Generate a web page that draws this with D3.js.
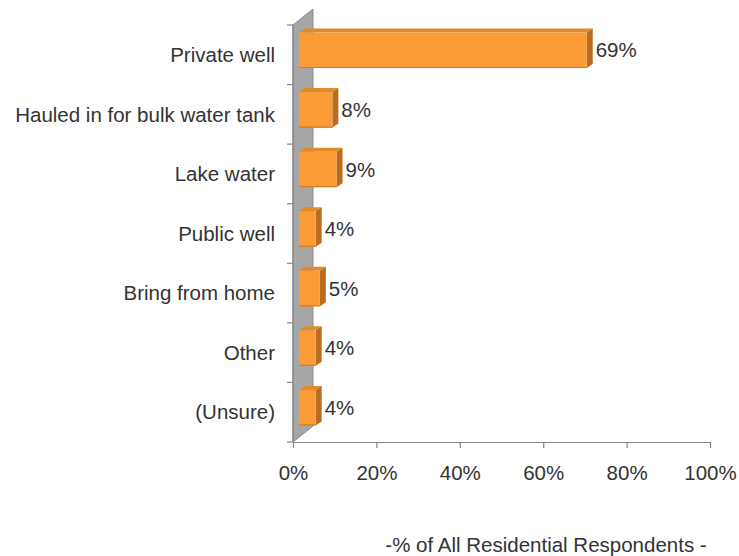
<!DOCTYPE html>
<html>
<head>
<meta charset="utf-8">
<script src="https://cdn.jsdelivr.net/npm/d3@7"></script>
<style>
  html, body { margin: 0; padding: 0; background: #fff; }
  svg { display: block; }
  text { font-family: "Liberation Sans", Arial, sans-serif; fill: #333; }
</style>
</head>
<body>
<svg id="chart" width="739" height="556"></svg>
<script>
// Water source for residences
const categories = ["Private well", "Hauled in for bulk water tank", "Lake water",
                    "Public well", "Bring from home", "Other", "(Unsure)"];
const values = [69, 8, 9, 4, 5, 4, 4];
const tickValues = [0, 20, 40, 60, 80, 100];
const tickLabels = ["0%", "20%", "40%", "60%", "80%", "100%"];
const axisTitle = "-% of All Residential Respondents -";

const FS = 20.5;
const svg = d3.select("#chart");

const x = d3.scaleLinear().domain([0, 100]).range([293, 710]);
const y = d3.scaleBand().domain(categories).range([25, 442]).paddingInner(0).paddingOuter(0);

// 3D wall depth and bar depth
const wallDx = 20, wallDy = -16;
const barDx = 6, barDy = -4;
const barShift = 6;          // bar front sits slightly into the depth
const barTopOff = 7.5, barH = 35.5;

// side wall
const y0 = y.range()[0], y1 = y.range()[1];
svg.append("path")
  .attr("d", `M${x(0)},${y0} L${x(0) + wallDx},${y0 + wallDy} L${x(0) + wallDx},${y1 + wallDy} L${x(0)},${y1} Z`)
  .attr("fill", "#a6a6a6")
  .attr("stroke", "#8c8c8c")
  .attr("stroke-width", 1);

// category axis (left)
const yAxis = svg.append("g");
yAxis.append("line")
  .attr("x1", x(0)).attr("x2", x(0)).attr("y1", y0).attr("y2", y1)
  .attr("stroke", "#868686").attr("stroke-width", 1.2);
const bounds = categories.map(c => y(c)).concat([y1]);
yAxis.selectAll("line.tk").data(bounds).join("line")
  .attr("class", "tk")
  .attr("x1", x(0) - 6).attr("x2", x(0))
  .attr("y1", d => d).attr("y2", d => d)
  .attr("stroke", "#868686").attr("stroke-width", 1.2);
yAxis.selectAll("text").data(categories).join("text")
  .attr("x", 275)
  .attr("y", d => y(d) + y.bandwidth() / 2)
  .attr("dy", "0.35em")
  .attr("text-anchor", "end")
  .attr("font-size", FS)
  .text(d => d);

// value axis (bottom)
const xAxisG = svg.append("g").attr("transform", `translate(0,${y1})`);
xAxisG.call(d3.axisBottom(x).tickValues(tickValues).tickSize(6).tickSizeOuter(0)
  .tickFormat((d, i) => tickLabels[i]));
xAxisG.select(".domain").attr("stroke", "#868686").attr("stroke-width", 1.2);
xAxisG.selectAll(".tick line").attr("stroke", "#868686").attr("stroke-width", 1.2);
xAxisG.selectAll(".tick text")
  .attr("y", 23)
  .attr("dy", "0.71em")
  .attr("font-size", FS)
  .attr("font-family", "Liberation Sans, Arial, sans-serif")
  .attr("fill", "#333");

// bars
const rows = categories.map((c, i) => ({ c, v: values[i] }));
const bars = svg.append("g").selectAll("g").data(rows).join("g");
bars.each(function (d) {
  const g = d3.select(this);
  const xl = x(0) + barShift;
  const xr = x(d.v) + barShift;
  const yt = y(d.c) + barTopOff;
  const yb = yt + barH;
  // top face
  g.append("path")
    .attr("d", `M${xl},${yt} L${xl + barDx},${yt + barDy} L${xr + barDx},${yt + barDy} L${xr},${yt} Z`)
    .attr("fill", "#df8a2c");
  // side face
  g.append("path")
    .attr("d", `M${xr},${yt} L${xr + barDx},${yt + barDy} L${xr + barDx},${yb + barDy} L${xr},${yb} Z`)
    .attr("fill", "#bb6c1f");
  // front face
  g.append("rect")
    .attr("x", xl).attr("y", yt)
    .attr("width", xr - xl).attr("height", barH)
    .attr("fill", "#fa9b36");
  // lower edge shading
  g.append("line")
    .attr("x1", xl).attr("x2", xr).attr("y1", yb - 0.5).attr("y2", yb - 0.5)
    .attr("stroke", "#d07a22").attr("stroke-width", 1.2);
});

// value labels
svg.append("g").selectAll("text").data(rows).join("text")
  .attr("x", d => x(d.v) + barShift + 9)
  .attr("y", d => y(d.c) + barTopOff + barH / 2)
  .attr("dy", "0.35em")
  .attr("font-size", FS)
  .text(d => d.v + "%");

// axis title
svg.append("text")
  .attr("x", 546)
  .attr("y", 552)
  .attr("text-anchor", "middle")
  .attr("font-size", FS)
  .text(axisTitle);
</script>
</body>
</html>
